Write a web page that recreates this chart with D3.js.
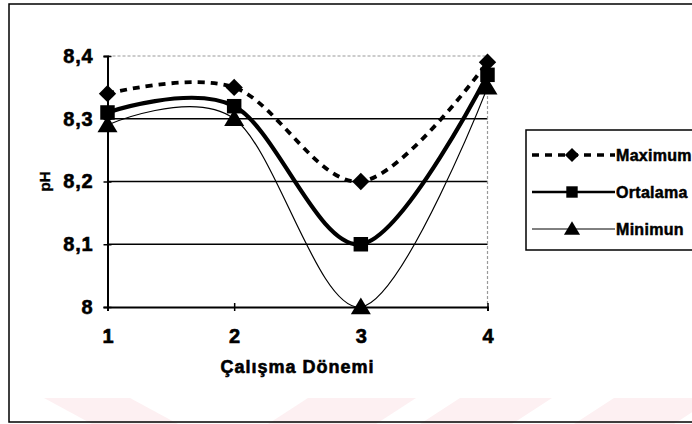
<!DOCTYPE html>
<html>
<head>
<meta charset="utf-8">
<script src="https://cdn.jsdelivr.net/npm/d3@7"></script>
<style>
  html, body { margin: 0; padding: 0; background: #fff; }
  svg { display: block; }
  text { font-family: "Liberation Sans", Arial, sans-serif; font-weight: bold; fill: #000; }
</style>
</head>
<body>
<svg id="chart" width="692" height="424"></svg>
<script>
// Sampling periods and pH readings (decimal comma shown on axis)
const periods = [1, 2, 3, 4];
const maximumPH = [8.34, 8.35, 8.20, 8.39];
const ortalamaPH = [8.31, 8.32, 8.10, 8.37];
const minimumPH = [8.29, 8.30, 8.00, 8.35];
const seriesNames = ["Maximum", "Ortalama", "Minimun"];
const yTicks = [8, 8.1, 8.2, 8.3, 8.4];
const xTitle = "Çalışma Dönemi";
const yTitle = "pH";

const svg = d3.select("#chart");

// faint pink backdrop bands along the bottom edge
const bands = [
  { x0: 44, w: 86, skew: 1 },
  { x0: 308, w: 108, skew: -1 },
  { x0: 460, w: 92, skew: -1 },
  { x0: 614, w: 100, skew: -1 }
];
const bandY = d3.scaleLinear().domain([0, 1]).range([398, 424]);
svg.append("g").selectAll("path").data(bands).join("path")
  .attr("fill", "#fdf0f2")
  .attr("d", b => {
    const pts = b.skew > 0
      ? [[b.x0, 0], [b.x0 + b.w, 0], [b.x0 + b.w + 48, 1], [b.x0 + 48, 1]]
      : [[b.x0, 0], [b.x0 + b.w, 0], [b.x0 + b.w - 40, 1], [b.x0 - 40, 1]];
    return d3.line().x(p => p[0]).y(p => bandY(p[1]))(pts) + "Z";
  });

// outer chart frame (right side runs off the page)
svg.append("rect")
  .attr("x", 9).attr("y", 4).attr("width", 700).attr("height", 418)
  .attr("fill", "none").attr("stroke", "#000").attr("stroke-width", 1.5);

const x = d3.scalePoint().domain(periods).range([107.5, 487.5]);
const y = d3.scaleLinear().domain([8, 8.4]).range([307, 56]);
const fmt = d => String(+d.toFixed(1)).replace(".", ",");

// horizontal gridlines
svg.append("g").selectAll("line").data(yTicks.slice(1, 4)).join("line")
  .attr("x1", x(1)).attr("x2", x(4))
  .attr("y1", d => y(d)).attr("y2", d => y(d))
  .attr("stroke", "#000").attr("stroke-width", 1.5);

// plot area top and right edges (light dotted)
svg.append("path")
  .attr("d", `M${x(1)},${y(8.4)}H${x(4)}V${y(8)}`)
  .attr("fill", "none").attr("stroke", "#999").attr("stroke-width", 1.2)
  .attr("stroke-dasharray", "3,2");

// y axis
const yAxis = d3.axisLeft(y).tickValues(yTicks).tickFormat(fmt).tickSize(4).tickPadding(10);
const gy = svg.append("g").attr("transform", `translate(${x(1)},0)`).call(yAxis);
gy.select(".domain").attr("stroke", "#000").attr("stroke-width", 2);
gy.selectAll(".tick line").attr("stroke", "#000").attr("stroke-width", 1.5).attr("x2", -4).attr("x1", 4);
gy.selectAll(".tick text")
  .style("font-size", "20px").style("font-family", "'Liberation Sans', Arial, sans-serif")
  .style("font-weight", "bold").attr("letter-spacing", "0.8")
  .attr("stroke", "#000").attr("stroke-width", 0.6).attr("fill", "#000");

// x axis
const xAxis = d3.axisBottom(x).tickSize(4).tickPadding(18);
const gx = svg.append("g").attr("transform", `translate(0,${y(8)})`).call(xAxis);
gx.select(".domain").attr("stroke", "#000").attr("stroke-width", 2);
gx.selectAll(".tick line").attr("stroke", "#000").attr("stroke-width", 1.5).attr("y1", -4).attr("y2", 4);
gx.selectAll(".tick text")
  .style("font-size", "20px").style("font-family", "'Liberation Sans', Arial, sans-serif")
  .style("font-weight", "bold")
  .attr("stroke", "#000").attr("stroke-width", 0.6).attr("fill", "#000");

// axis titles
svg.append("text")
  .attr("x", (x(1) + x(4)) / 2).attr("y", 373)
  .attr("text-anchor", "middle").attr("font-size", 18).attr("letter-spacing", 1.0)
  .attr("stroke", "#000").attr("stroke-width", 0.6)
  .text(xTitle);
svg.append("text")
  .attr("transform", `translate(50,${y(8.2)}) rotate(-90)`)
  .attr("text-anchor", "middle").attr("font-size", 15)
  .attr("stroke", "#000").attr("stroke-width", 0.4)
  .text(yTitle);

// marker shapes: wide diamond, square, broad triangle
const diamond = { draw(ctx, size) { const r = Math.sqrt(size / 2); ctx.moveTo(0, -r); ctx.lineTo(r, 0); ctx.lineTo(0, r); ctx.lineTo(-r, 0); ctx.closePath(); } };
const triangle = { draw(ctx, size) { const w = Math.sqrt(size * 2) / 2, h = w * 0.95; ctx.moveTo(0, -h); ctx.lineTo(w, h * 0.75); ctx.lineTo(-w, h * 0.75); ctx.closePath(); } };

// series definitions
const series = [
  { name: seriesNames[0], values: maximumPH, width: 3.8, dash: "7,6", symbol: diamond, size: 150, lsize: 100, lwidth: 3.5 },
  { name: seriesNames[1], values: ortalamaPH, width: 4.2, dash: null, symbol: d3.symbolSquare, size: 210, lsize: 130, lwidth: 2.5 },
  { name: seriesNames[2], values: minimumPH, width: 1.2, dash: null, symbol: triangle, size: 200, lsize: 130, lwidth: 1 }
];

const line = d3.line()
  .x((d, i) => x(periods[i]))
  .y(d => y(d))
  .curve(d3.curveCardinal.tension(0));

const gs = svg.append("g");
series.forEach(s => {
  gs.append("path")
    .attr("d", line(s.values))
    .attr("fill", "none").attr("stroke", "#000")
    .attr("stroke-width", s.width)
    .attr("stroke-dasharray", s.dash)
    .attr("stroke-linejoin", "round");
});
series.forEach(s => {
  gs.append("g").selectAll("path").data(s.values).join("path")
    .attr("transform", (d, i) => `translate(${x(periods[i])},${y(d)})`)
    .attr("d", d3.symbol(s.symbol, s.size))
    .attr("fill", "#000");
});

// legend
const legend = svg.append("g");
legend.append("rect")
  .attr("x", 526).attr("y", 130).attr("width", 200).attr("height", 120)
  .attr("fill", "#fff").attr("stroke", "#000").attr("stroke-width", 1.5);
const rowY = d3.scalePoint().domain(seriesNames).range([155, 229]);
series.forEach(s => {
  const ry = rowY(s.name);
  legend.append("line")
    .attr("x1", 532).attr("x2", 615).attr("y1", ry).attr("y2", ry)
    .attr("stroke", "#000")
    .attr("stroke-width", s.lwidth)
    .attr("stroke-dasharray", s.dash);
  legend.append("path")
    .attr("transform", `translate(572,${ry})`)
    .attr("d", d3.symbol(s.symbol, s.lsize))
    .attr("fill", "#000");
  legend.append("text")
    .attr("x", 616).attr("y", ry + 6)
    .attr("font-size", 16).attr("letter-spacing", 0.3)
    .attr("stroke", "#000").attr("stroke-width", 0.5)
    .text(s.name);
});
</script>
</body>
</html>
